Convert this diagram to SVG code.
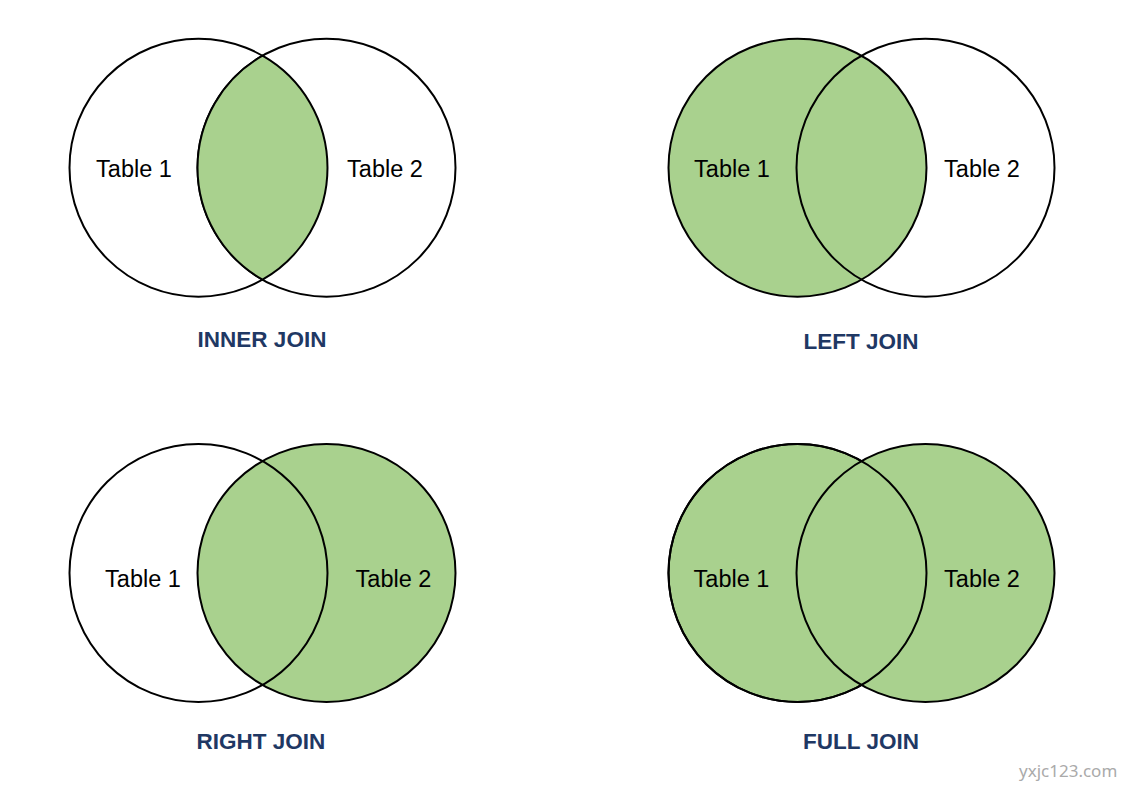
<svg xmlns="http://www.w3.org/2000/svg" width="1139" height="788" viewBox="0 0 1139 788">
<style>
.c{stroke:#000;stroke-width:2}
.w{fill:#fff}
.n{fill:none}
.g{fill:#A9D18E}
.t{font-family:"Liberation Sans",Arial,sans-serif;font-size:23.5px;fill:#000;text-anchor:middle}
.h{font-family:"Liberation Sans",Arial,sans-serif;font-size:22.5px;font-weight:bold;fill:#1F3864;text-anchor:middle}
.wm{font-family:"Noto Sans","Liberation Sans",sans-serif;font-size:17px;fill:#AAAAAA}
</style>
<rect width="1139" height="788" fill="#fff"/>
<g id="inner-join">
<circle class="c w" cx="198.5" cy="167.7" r="129"/>
<circle class="c w" cx="326.5" cy="167.7" r="129"/>
<path class="c g" d="M262.5 55.7 A129 129 0 0 1 262.5 279.7 A129 129 0 0 1 262.5 55.7Z"/>
<text class="t" x="134" y="177">Table 1</text>
<text class="t" x="385" y="177">Table 2</text>
<text class="h" x="262" y="347">INNER JOIN</text>
</g>
<g id="left-join">
<circle class="c g" cx="797.5" cy="167.7" r="129"/>
<circle class="c n" cx="925.5" cy="167.7" r="129"/>
<text class="t" x="732" y="177">Table 1</text>
<text class="t" x="982" y="177">Table 2</text>
<text class="h" x="861" y="349">LEFT JOIN</text>
</g>
<g id="right-join">
<circle class="c g" cx="326.5" cy="573" r="129"/>
<circle class="c n" cx="198.5" cy="573" r="129"/>
<text class="t" x="143" y="587">Table 1</text>
<text class="t" x="393.5" y="587">Table 2</text>
<text class="h" x="261" y="749">RIGHT JOIN</text>
</g>
<g id="full-join">
<circle class="c g" cx="797.5" cy="573" r="129"/>
<circle class="c g" cx="925.5" cy="573" r="129"/>
<circle class="c n" cx="797.5" cy="573" r="129"/>
<text class="t" x="731.5" y="587">Table 1</text>
<text class="t" x="982" y="587">Table 2</text>
<text class="h" x="861" y="749">FULL JOIN</text>
</g>
<g id="connectors"/>
<text class="wm" x="1019" y="777">yxjc123.com</text>
</svg>
